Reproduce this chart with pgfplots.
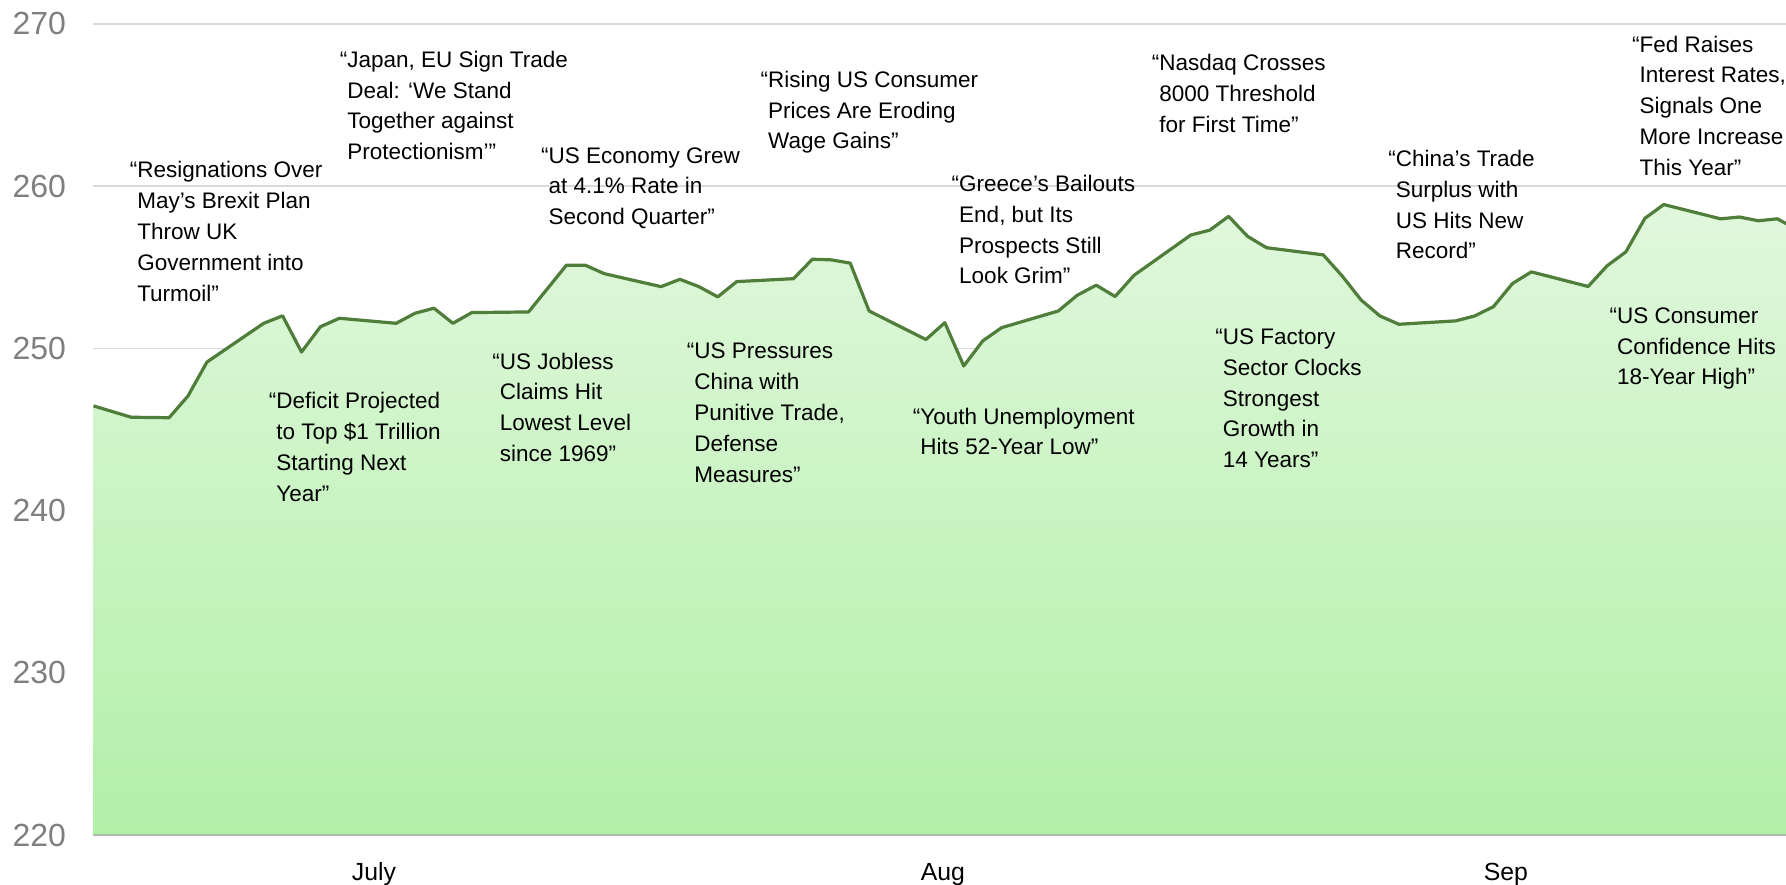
\documentclass[border=0pt]{standalone}
\usepackage{fontspec}
\setmainfont{Liberation Sans}
\usepackage{pgfplots}
\usepackage{pgfplotstable}
\pgfplotsset{compat=1.18}
\definecolor{lineGreen}{HTML}{4F7D3A}
\definecolor{fillTop}{HTML}{E0F7DC}
\definecolor{fillBot}{HTML}{B2F0A8}
\definecolor{gridGray}{HTML}{D9D9D9}
\definecolor{tickGray}{HTML}{7F7F7F}
\definecolor{axisGray}{HTML}{AEBDAA}

% t = trading day position (days from start of axis), v = index value
\pgfplotstableread{
t v
0 246.45
2 245.75
4 245.72
5 247.06
6 249.15
9 251.54
10 252.00
11 249.77
12 251.33
13 251.85
16 251.54
17 252.16
18 252.47
19 251.54
20 252.20
23 252.24
25 255.12
26 255.12
27 254.60
30 253.80
31 254.25
32 253.80
33 253.17
34 254.11
37 254.29
38 255.49
39 255.45
40 255.25
41 252.30
44 250.54
45 251.58
46 248.91
47 250.45
48 251.27
51 252.30
52 253.27
53 253.89
54 253.19
55 254.50
58 256.98
59 257.28
60 258.13
61 256.90
62 256.20
65 255.76
66 254.46
67 252.98
68 251.99
69 251.48
72 251.69
73 251.99
74 252.57
75 253.99
76 254.71
79 253.81
80 255.08
81 255.95
82 258.01
83 258.86
86 257.98
87 258.09
88 257.86
89 257.98
90 257.35
}\stock

\begin{document}
\begin{tikzpicture}[ann/.style={anchor=base west, align=left, inner sep=0pt, text=black, font=\fontsize{11.25}{15.4}\selectfont, yshift=-(#1-1)*15.4pt}]
\useasboundingbox (-46.7pt,-24.5pt) rectangle (846.3pt,417.5pt);
\begin{axis}[
  scale only axis,
  width=846.3pt, height=405.6pt,
  xmin=0, xmax=89.46, ymin=220, ymax=270,
  ytick={220,230,240,250,260,270},
  xtick={14.83,44.9,74.65},
  xticklabels={July,Aug,Sep},
  ymajorgrids,
  grid style={gridGray, line width=0.75pt},
  axis line style={draw=none},
  major tick length=0pt,
  tick style={draw=none},
  /pgf/number format/assume math mode=true,
  yticklabel style={font=\fontsize{16}{19}\selectfont, text=tickGray, anchor=east, inner sep=0pt, xshift=-13.5pt},
  xticklabel style={font=\fontsize{12.4}{15}\selectfont, text=black, anchor=base, inner sep=0pt, yshift=-22.75pt},
  clip mode=individual,
]
\addplot[draw=none, top color=fillTop, bottom color=fillBot] table[x=t, y=v] {\stock} |- (rel axis cs:0,0) -- cycle;
\addplot[color=lineGreen, line width=1.6pt, line join=round] table[x=t, y=v] {\stock};
\draw[axisGray, line width=0.8pt] (rel axis cs:0,0) -- (rel axis cs:1,0);

\node[ann=5] at (axis cs:2.30,260.50) {\llap{“}Resignations Over\\May’s Brexit Plan\\Throw UK\\Government into\\Turmoil”};
\node[ann=4] at (axis cs:9.65,246.26) {\llap{“}Deficit Projected\\to Top \$1 Trillion\\Starting Next\\Year”};
\node[ann=4] at (axis cs:13.40,267.32) {\llap{“}Japan, EU Sign Trade\\Deal: ‘We Stand\\Together against\\Protectionism’”};
\node[ann=4] at (axis cs:21.46,248.72) {\llap{“}US Jobless\\Claims Hit\\Lowest Level\\since 1969”};
\node[ann=3] at (axis cs:24.04,261.42) {\llap{“}US Economy Grew\\at 4.1\% Rate in\\Second Quarter”};
\node[ann=3] at (axis cs:35.64,266.09) {\llap{“}Rising US Consumer\\Prices Are Eroding\\Wage Gains”};
\node[ann=5] at (axis cs:31.74,249.34) {\llap{“}US Pressures\\China with\\Punitive Trade,\\Defense\\Measures”};
\node[ann=4] at (axis cs:45.74,259.66) {\llap{“}Greece’s Bailouts\\End, but Its\\Prospects Still\\Look Grim”};
\node[ann=2] at (axis cs:43.69,245.33) {\llap{“}Youth Unemployment\\Hits 52-Year Low”};
\node[ann=3] at (axis cs:56.32,267.11) {\llap{“}Nasdaq Crosses\\8000 Threshold\\for First Time”};
\node[ann=5] at (axis cs:59.68,250.23) {\llap{“}US Factory\\Sector Clocks\\Strongest\\Growth in\\14 Years”};
\node[ann=4] at (axis cs:68.82,261.20) {\llap{“}China’s Trade\\Surplus with\\US Hits New\\Record”};
\node[ann=5] at (axis cs:81.70,268.25) {\llap{“}Fed Raises\\Interest Rates,\\Signals One\\More Increase\\This Year”};
\node[ann=3] at (axis cs:80.51,251.54) {\llap{“}US Consumer\\Confidence Hits\\18-Year High”};
\end{axis}
\end{tikzpicture}
\end{document}
